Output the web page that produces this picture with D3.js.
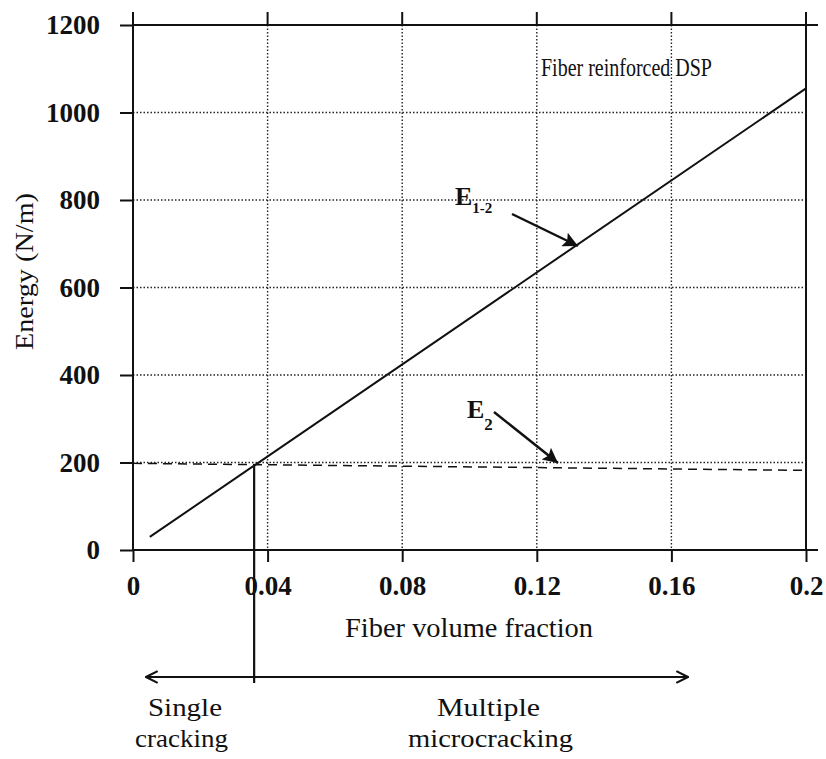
<!DOCTYPE html>
<html>
<head>
<meta charset="utf-8">
<script src="https://cdn.jsdelivr.net/npm/d3@7"></script>
<style>
  body { margin: 0; background: #fff; }
  svg text { font-family: "Liberation Serif", "Times New Roman", Times, "DejaVu Serif", serif; fill: #111; }
</style>
</head>
<body>
<div id="chart"></div>
<script>
// ---- data ----
const xTicks = [0, 0.04, 0.08, 0.12, 0.16, 0.2];
const xTickLabels = ["0", "0.04", "0.08", "0.12", "0.16", "0.2"];
const yTicks = [0, 200, 400, 600, 800, 1000, 1200];
const e12 = [[0.005, 30], [0.2, 1055]];   // E1-2, solid
const e2 = [[0, 198], [0.2, 182]];        // E2, dashed
const crackX = 0.036;                     // single / multiple cracking limit
const crackY = 195;

const SERIF = '"Liberation Serif", "Times New Roman", Times, "DejaVu Serif", serif';
const W = 826, H = 759;
const m = { left: 133, top: 25 };
const iw = 806 - m.left, ih = 550 - m.top;

const svg = d3.select('#chart').append('svg')
  .attr('width', W).attr('height', H)
  .attr('font-family', SERIF);

const x = d3.scaleLinear().domain([0, 0.2]).range([m.left, m.left + iw]);
const y = d3.scaleLinear().domain([0, 1200]).range([m.top + ih, m.top]);

const defs = svg.append('defs');
defs.append('marker').attr('id', 'headFill')
  .attr('viewBox', '0 0 10 10').attr('refX', 10).attr('refY', 5)
  .attr('markerWidth', 7).attr('markerHeight', 6).attr('orient', 'auto')
  .attr('markerUnits', 'strokeWidth')
  .append('path').attr('d', 'M0,0 L10,5 L0,10 L2,5 Z').attr('fill', '#111');
defs.append('marker').attr('id', 'headOpen')
  .attr('viewBox', '0 0 12 12').attr('refX', 11).attr('refY', 6)
  .attr('markerWidth', 14).attr('markerHeight', 14).attr('orient', 'auto-start-reverse')
  .attr('markerUnits', 'userSpaceOnUse')
  .append('path').attr('d', 'M1,1 L11,6 L1,11').attr('fill', 'none')
  .attr('stroke', '#111').attr('stroke-width', 1.8);

// grid (dotted)
const grid = svg.append('g');
grid.selectAll('.gx').data(xTicks.slice(1, -1)).join('line')
  .attr('x1', d => x(d)).attr('x2', d => x(d))
  .attr('y1', y(1200)).attr('y2', y(0))
  .attr('stroke', '#222').attr('stroke-width', 1.4).attr('stroke-dasharray', '1.5,2');
grid.selectAll('.gy').data(yTicks.slice(1, -1)).join('line')
  .attr('x1', x(0)).attr('x2', x(0.2))
  .attr('y1', d => y(d)).attr('y2', d => y(d))
  .attr('stroke', '#222').attr('stroke-width', 1.4).attr('stroke-dasharray', '1.5,2');

// frame
const frame = svg.append('g').attr('stroke', '#111').attr('stroke-width', 2);
frame.append('line').attr('x1', x(0)).attr('x2', x(0)).attr('y1', y(1200) - 13).attr('y2', y(0));
frame.append('line').attr('x1', x(0.2)).attr('x2', x(0.2)).attr('y1', y(1200) - 13).attr('y2', y(0));
frame.append('line').attr('x1', x(0)).attr('x2', x(0.2) + 12).attr('y1', y(0)).attr('y2', y(0));
frame.append('line').attr('x1', x(0)).attr('x2', x(0.2) + 12).attr('y1', y(1200)).attr('y2', y(1200));

// axes
const yAxis = d3.axisLeft(y).tickValues(yTicks).tickFormat(d3.format('d'))
  .tickSize(13).tickPadding(20);
const gy = svg.append('g').attr('transform', `translate(${x(0)},0)`).call(yAxis);
const xAxis = d3.axisBottom(x).tickValues(xTicks).tickFormat((d, i) => xTickLabels[i])
  .tickSize(12).tickPadding(14);
const gx = svg.append('g').attr('transform', `translate(0,${y(0)})`).call(xAxis);
[gx, gy].forEach(g => {
  g.attr('font-family', SERIF);
  g.select('.domain').remove();
  g.selectAll('.tick line').attr('stroke', '#111').attr('stroke-width', 2);
  g.selectAll('.tick text').attr('font-size', 27).attr('fill', '#111')
    .attr('font-weight', 'bold').attr('font-family', SERIF);
});
// small ticks above top border
svg.append('g').selectAll('line').data(xTicks.slice(1, -1)).join('line')
  .attr('x1', d => x(d)).attr('x2', d => x(d))
  .attr('y1', y(1200) - 13).attr('y2', y(1200))
  .attr('stroke', '#111').attr('stroke-width', 2);

// lines
const line = d3.line().x(d => x(d[0])).y(d => y(d[1]));
svg.append('path').datum(e12).attr('d', line)
  .attr('fill', 'none').attr('stroke', '#111').attr('stroke-width', 2);
svg.append('path').datum(e2).attr('d', line)
  .attr('fill', 'none').attr('stroke', '#111').attr('stroke-width', 1.5)
  .attr('stroke-dasharray', '9,6');

// vertical divider + regime arrow
const arrowY = 677;
svg.append('line').attr('x1', x(crackX)).attr('x2', x(crackX))
  .attr('y1', y(crackY)).attr('y2', arrowY + 6)
  .attr('stroke', '#111').attr('stroke-width', 2.2);
svg.append('line').attr('x1', 146).attr('x2', 688)
  .attr('y1', arrowY).attr('y2', arrowY)
  .attr('stroke', '#111').attr('stroke-width', 2)
  .attr('marker-start', 'url(#headOpen)').attr('marker-end', 'url(#headOpen)');

// annotation arrows
svg.append('line').attr('x1', 512).attr('y1', 214).attr('x2', 578).attr('y2', 246)
  .attr('stroke', '#111').attr('stroke-width', 2.5).attr('marker-end', 'url(#headFill)');
svg.append('line').attr('x1', 494).attr('y1', 412).attr('x2', 558).attr('y2', 463)
  .attr('stroke', '#111').attr('stroke-width', 2.5).attr('marker-end', 'url(#headFill)');

// labels
const t1 = svg.append('text').attr('x', 455).attr('y', 205).attr('font-size', 26).attr('font-weight', 'bold');
t1.append('tspan').text('E');
t1.append('tspan').attr('dy', 8).attr('font-size', 15).text('1-2');
const t2 = svg.append('text').attr('x', 467).attr('y', 418).attr('font-size', 26).attr('font-weight', 'bold');
t2.append('tspan').text('E');
t2.append('tspan').attr('dy', 12).attr('font-size', 17).text('2');

const label = (txt, px, py, size, len) => svg.append('text')
  .attr('x', px).attr('y', py).attr('font-size', size)
  .attr('textLength', len).attr('lengthAdjust', 'spacingAndGlyphs').text(txt);

label('Fiber reinforced DSP', 541, 76, 26, 171);
label('Fiber volume fraction', 345, 637, 27, 248);
label('Single', 148, 716, 26, 74);
label('cracking', 135, 747, 26, 93);
label('Multiple', 437, 716, 26, 103);
label('microcracking', 408, 747, 26, 165);

svg.append('text').attr('transform', `translate(33,350) rotate(-90)`)
  .attr('font-size', 26).attr('textLength', 157).attr('lengthAdjust', 'spacingAndGlyphs')
  .text('Energy (N/m)');
</script>
</body>
</html>
